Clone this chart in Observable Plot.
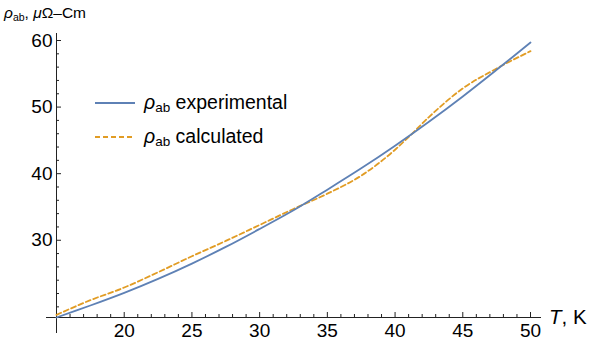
<!DOCTYPE html>
<html><head><meta charset="utf-8">
<script src="https://cdn.jsdelivr.net/npm/d3@7"></script>
<script src="https://cdn.jsdelivr.net/npm/@observablehq/plot@0.6"></script>
<style>body{margin:0;background:#fff} svg{display:block}</style>
</head><body><div id="chart"></div><script>
// Data
const temperature = [15, 17.5, 20, 22.5, 25, 27.5, 30, 32.5, 35, 37.5, 40, 42.5, 45, 47.5, 50];
const experimental = [18.4, 20.2, 22.1, 24.2, 26.5, 29.0, 31.7, 34.5, 37.6, 40.8, 44.2, 47.8, 51.6, 55.6, 59.7];
const calcTemperature = [15, 17.5, 20, 22.5, 25, 27.5, 30, 32.5, 35, 37.5, 40, 41, 42.5, 45, 47.5, 50];
const calculated = [18.8, 21.0, 22.9, 25.2, 27.6, 29.9, 32.3, 34.7, 37.0, 39.7, 43.6, 45.5, 48.5, 52.8, 55.8, 58.4];
const xTicks = [20, 25, 30, 35, 40, 45, 50];
const yTicks = [30, 40, 50, 60];
const xMinor = [16,17,18,19,21,22,23,24,26,27,28,29,31,32,33,34,36,37,38,39,41,42,43,44,46,47,48,49];
const yMinor = [20,22,24,26,28,32,34,36,38,42,44,46,48,52,54,56,58];
const seriesNames = ["experimental", "calculated"];
const colors = ["#5E81B5", "#E19C24"];

const expData = temperature.map((t, i) => ({t, v: experimental[i]}));
const calcData = calcTemperature.map((t, i) => ({t, v: calculated[i]}));

const W = 603, H = 347, mL = 56, mR = 73, mT = 40, mB = 30;
const frameW = W - mL - mR, frameH = H - mT - mB;
const yMin = d3.min(experimental);
const axisColor = "#222";

const plot = Plot.plot({
  width: W, height: H,
  marginLeft: mL, marginRight: mR, marginTop: mT, marginBottom: mB,
  x: {domain: [15, 50]},
  y: {domain: [yMin, 60]},
  style: {fontFamily: "'Liberation Sans', Arial, sans-serif", fontSize: "19px", color: "#000", background: "#fff"},
  marks: [
    Plot.ruleY([yMin], {stroke: axisColor, insetLeft: -10, insetRight: -11}),
    Plot.ruleX([15], {stroke: axisColor, insetTop: -7, insetBottom: -16}),
    Plot.tickY(yTicks, {y: d => d, stroke: axisColor, insetRight: frameW - 5}),
    Plot.tickY(yMinor, {y: d => d, stroke: axisColor, insetRight: frameW - 3}),
    Plot.tickX(xTicks, {x: d => d, stroke: axisColor, insetTop: frameH - 5}),
    Plot.tickX(xMinor, {x: d => d, stroke: axisColor, insetTop: frameH - 3}),
    Plot.axisY({ticks: yTicks, tickSize: 0, tickPadding: 4, fontSize: 19, label: null}),
    Plot.axisX({ticks: xTicks, tickSize: 0, tickPadding: 6, fontSize: 19, label: null}),
    Plot.line(calcData, {x: "t", y: "v", stroke: colors[1], strokeWidth: 1.8, strokeDasharray: "5,3", curve: "monotone-x"}),
    Plot.line(expData, {x: "t", y: "v", stroke: colors[0], strokeWidth: 1.8, curve: "catmull-rom"})
  ]
});
document.getElementById("chart").appendChild(plot);

const svg = d3.select(plot);
// y-axis label
const yl = svg.append("text").attr("x", 4).attr("y", 18).attr("font-size", 15.5)
  .attr("fill", "#000").attr("text-anchor", "start");
yl.append("tspan").attr("font-style", "italic").text("ρ");
yl.append("tspan").attr("font-size", 10.5).attr("dy", 3).text("ab");
yl.append("tspan").attr("dy", -3).text(", ");
yl.append("tspan").attr("font-style", "italic").text("μ");
yl.append("tspan").text("Ω–Cm");
// x-axis label
const xl = svg.append("text").attr("x", 549).attr("y", 324).attr("font-size", 20.5)
  .attr("fill", "#000").attr("text-anchor", "start");
xl.append("tspan").attr("font-style", "italic").text("T");
xl.append("tspan").text(", K");
// legend
const legY = [103, 137];
seriesNames.forEach((name, i) => {
  svg.append("line").attr("x1", 95).attr("x2", 135).attr("y1", legY[i]).attr("y2", legY[i])
    .attr("stroke", colors[i]).attr("stroke-width", 1.8).attr("stroke-dasharray", i ? "5,3" : null);
  const t = svg.append("text").attr("x", 144).attr("y", legY[i] + 6).attr("font-size", 19.5)
    .attr("fill", "#000").attr("text-anchor", "start");
  t.append("tspan").attr("font-style", "italic").text("ρ");
  t.append("tspan").attr("font-size", 13.5).attr("dy", 3).text("ab");
  t.append("tspan").attr("dy", -3).text(" " + name);
});
</script></body></html>
